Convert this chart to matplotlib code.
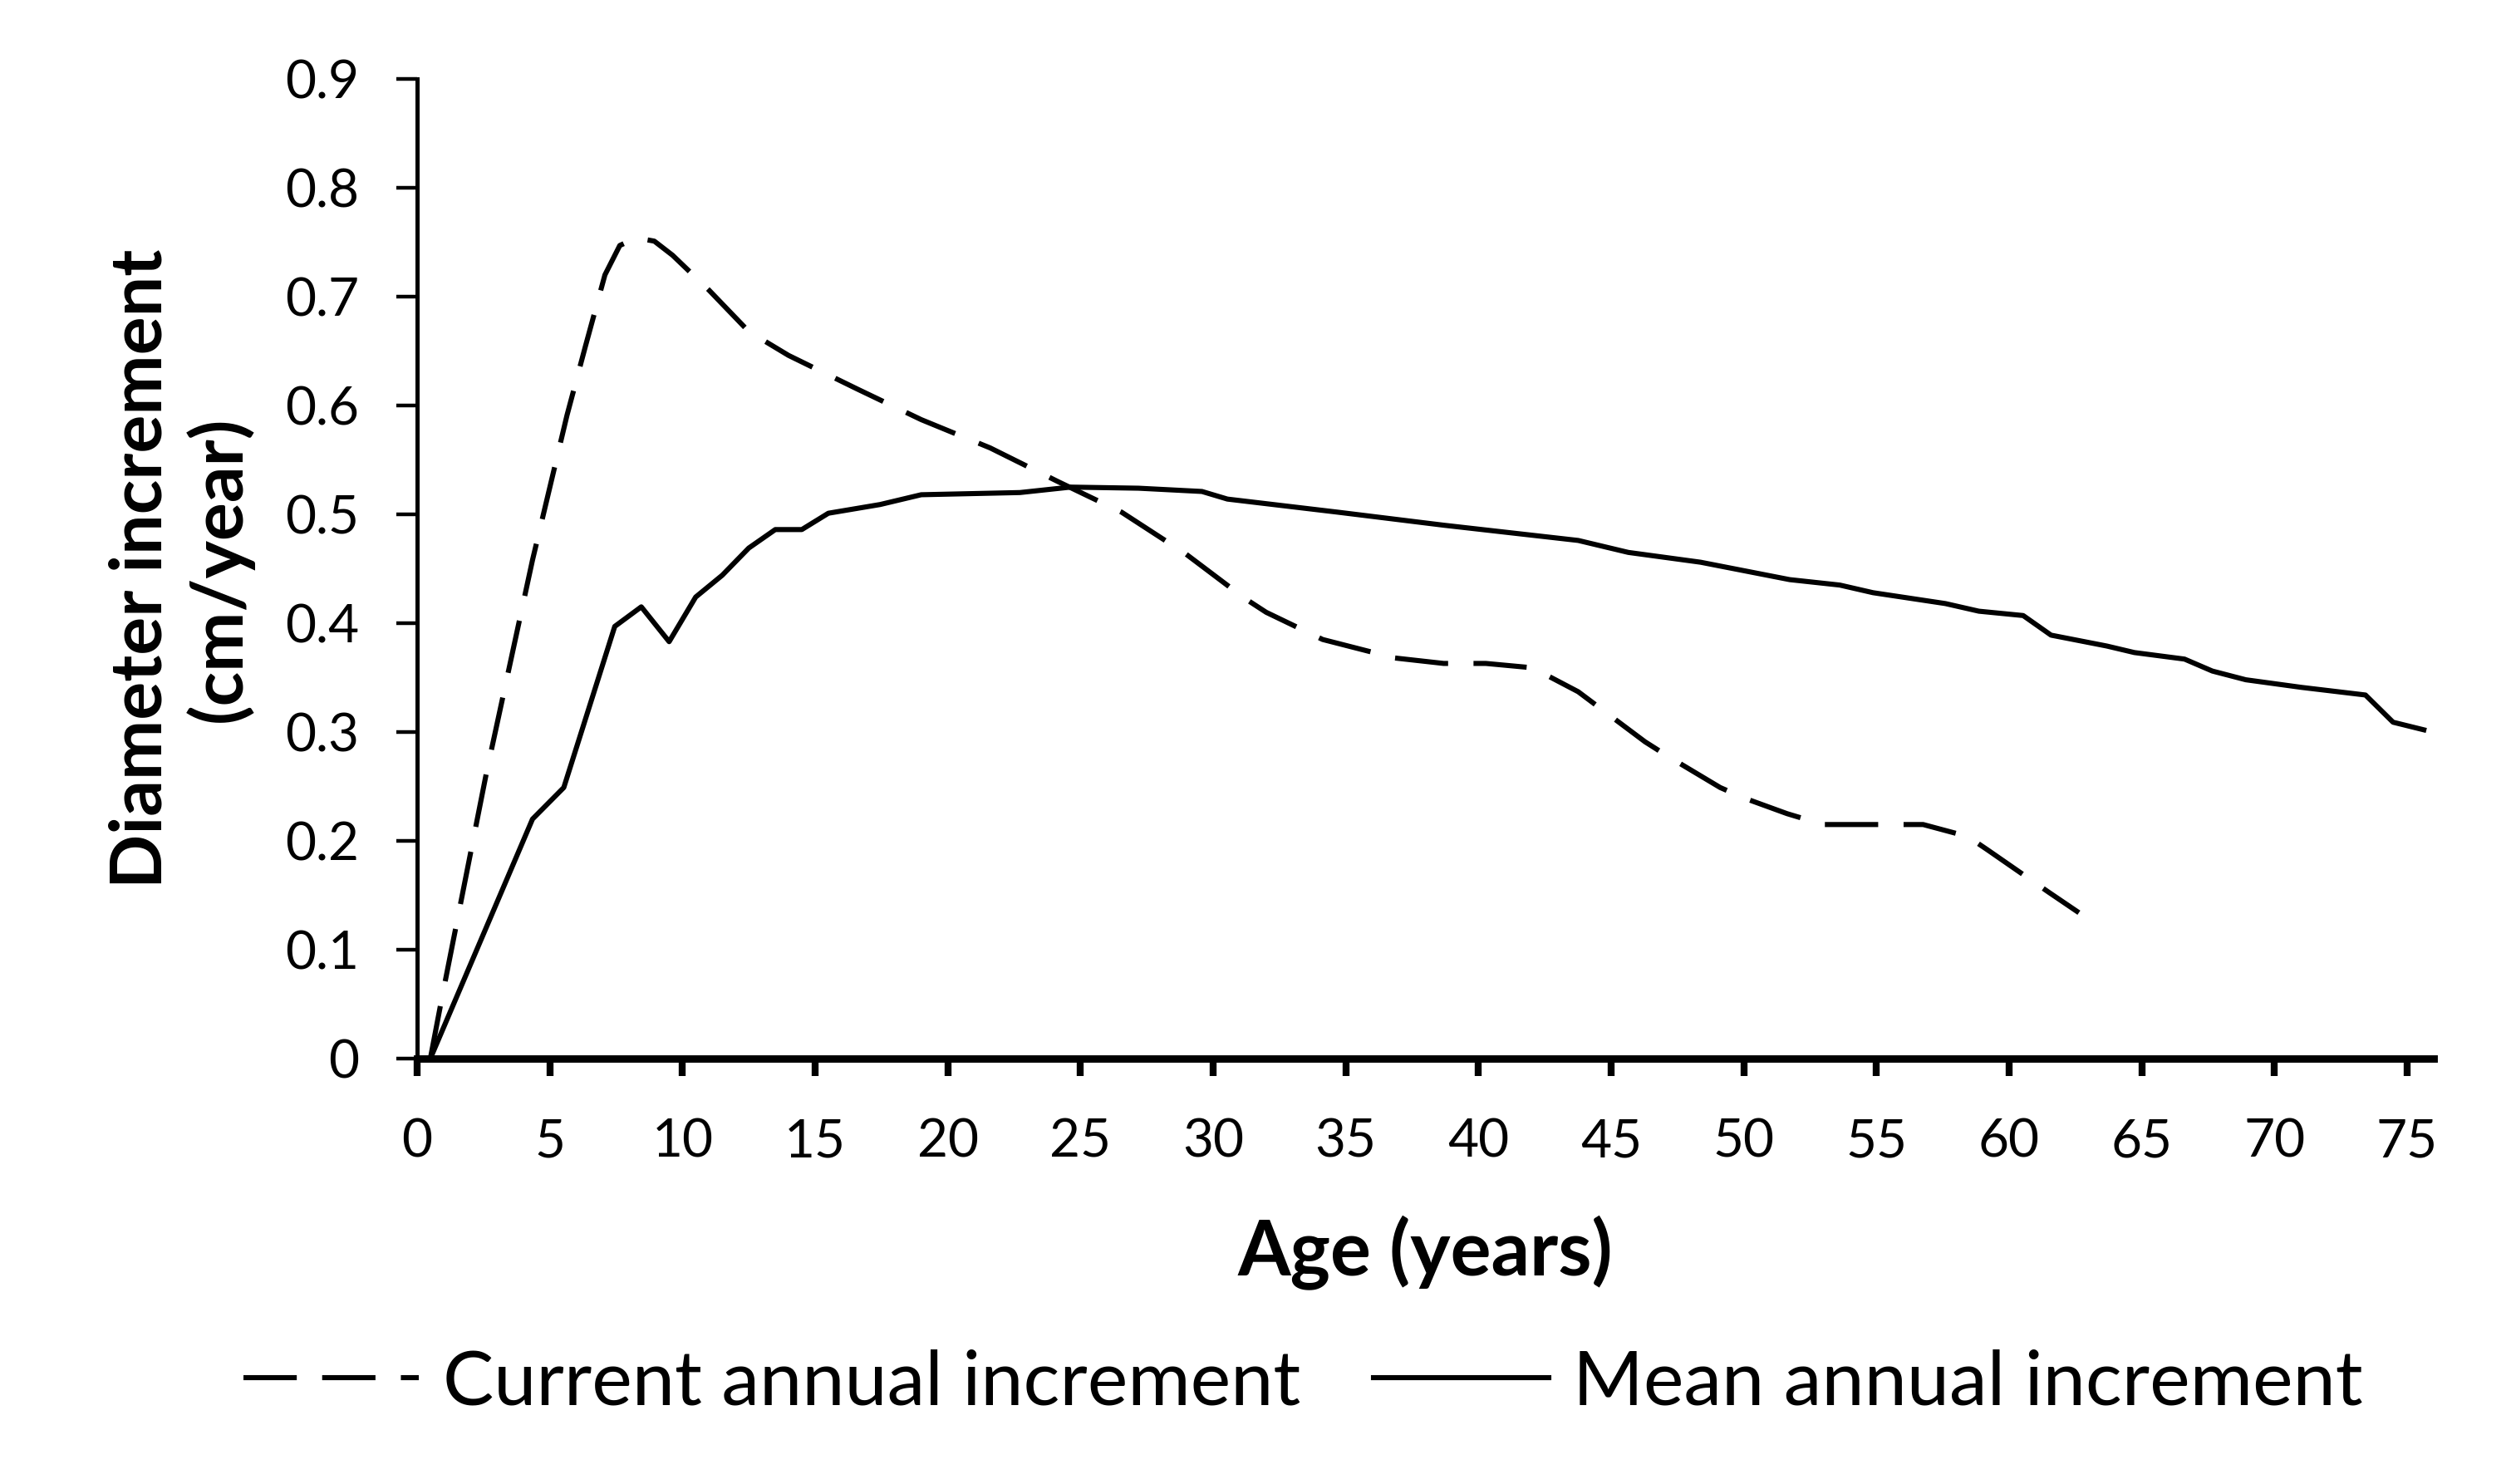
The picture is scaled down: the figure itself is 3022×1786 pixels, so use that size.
import matplotlib
matplotlib.use("Agg")
import matplotlib.pyplot as plt

plt.rcParams["font.family"] = ["Lato", "DejaVu Sans"]

# current annual increment (dashed)
cai_age = [0.5, 0.93, 2.61, 4.35, 5.65, 6.34, 7.08, 7.64, 8.26, 8.94, 9.63, 11.0,
           12.5, 14.0, 16.6, 19.0, 21.6, 24.16, 26.55, 28.95, 31.18, 32.0, 34.13,
           36.85, 38.69, 40.28, 42.04, 43.76, 46.28, 47.12, 49.11, 50.05, 51.63,
           52.99, 54.45, 56.76, 58.44, 59.17, 61.48, 62.63]
cai_val = [0.0, 0.055, 0.262, 0.458, 0.591, 0.654, 0.72, 0.747, 0.754, 0.751, 0.738,
           0.706, 0.668, 0.646, 0.615, 0.587, 0.561, 0.53, 0.502, 0.464, 0.423, 0.41,
           0.385, 0.368, 0.363, 0.363, 0.359, 0.337, 0.291, 0.278, 0.249, 0.239,
           0.225, 0.215, 0.215, 0.215, 0.204, 0.192, 0.153, 0.134]

# mean annual increment (solid)
mai_age = [0.5, 4.35, 5.53, 7.45, 8.45, 9.5, 10.5, 11.5, 12.5, 13.5, 14.5, 15.5,
           17.45, 19.0, 22.72, 24.63, 27.19, 29.58, 30.54, 34.69, 38.69, 43.76,
           45.65, 48.37, 50.05, 51.73, 53.62, 54.87, 57.6, 58.86, 60.53, 61.58,
           63.68, 64.72, 66.61, 67.66, 68.92, 71.02, 73.43, 74.47, 75.63]
mai_val = [0.0, 0.22, 0.249, 0.397, 0.415, 0.383, 0.424, 0.444, 0.469, 0.486, 0.486,
           0.501, 0.509, 0.518, 0.52, 0.525, 0.524, 0.521, 0.514, 0.502, 0.49, 0.476,
           0.465, 0.456, 0.448, 0.44, 0.435, 0.428, 0.418, 0.411, 0.407, 0.389,
           0.379, 0.373, 0.367, 0.356, 0.348, 0.341, 0.334, 0.309, 0.302]

x_ticks = list(range(0, 80, 5))
y_ticks = [0, 0.1, 0.2, 0.3, 0.4, 0.5, 0.6, 0.7, 0.8, 0.9]
y_tick_labels = ["0", "0.1", "0.2", "0.3", "0.4", "0.5", "0.6", "0.7", "0.8", "0.9"]

fig = plt.figure(figsize=(15.11, 8.93), dpi=200)
ax = fig.add_axes([0.1661, 0.2867, 0.8031, 0.6601])

ax.plot(cai_age, cai_val, color="black", lw=2.2, dashes=(10.5, 5),
        label="Current annual increment", clip_on=False)
ax.plot(mai_age, mai_val, color="black", lw=2.2, solid_joinstyle="round",
        label="Mean annual increment", clip_on=False)

ax.set_xlim(0, 76)
ax.set_ylim(0, 0.9)
ax.set_xticks(x_ticks)
ax.set_yticks(y_ticks)
ax.set_yticklabels(y_tick_labels)

for s in ("top", "right"):
    ax.spines[s].set_visible(False)
ax.spines["left"].set_linewidth(1.8)
ax.spines["bottom"].set_linewidth(3.2)
ax.tick_params(axis="y", direction="out", length=9, width=1.6, pad=16, labelsize=23)
ax.tick_params(axis="x", direction="out", length=7.7, width=3, pad=18, labelsize=23)

ax.set_ylabel("Diameter increment\n(cm/year)", fontsize=31, fontweight="bold")
ax.yaxis.set_label_coords(-0.081, 0.5)
ax.set_xlabel("Age (years)", fontsize=33, fontweight="bold")
ax.xaxis.set_label_coords(0.5, -0.16)

fig.legend(loc="center", bbox_to_anchor=(0.519, 0.068), ncol=2, frameon=False,
           fontsize=33, handlelength=2.3, handletextpad=0.32, columnspacing=0.96)

fig.savefig("out.png", dpi=200)
